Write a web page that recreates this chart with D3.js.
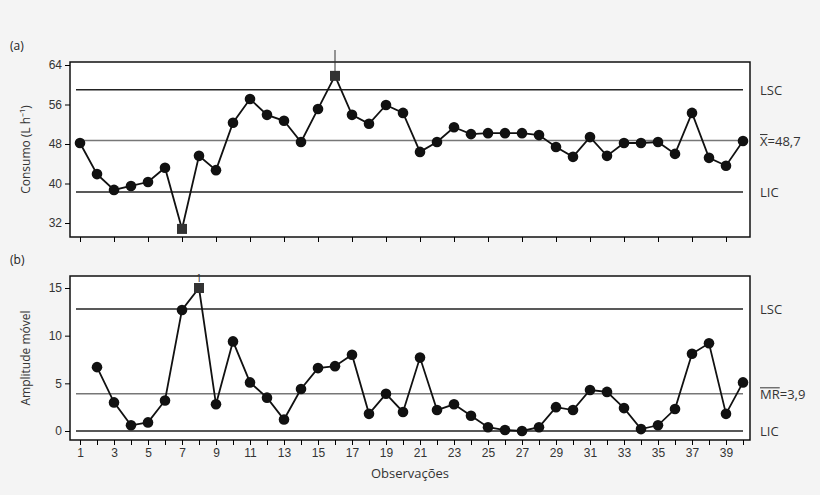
<!DOCTYPE html>
<html><head><meta charset="utf-8">
<script src="https://cdn.jsdelivr.net/npm/d3@7"></script>
<style>body{margin:0;background:#f4f4f4}svg{font-family:"Open Sans",sans-serif}</style>
</head><body><svg id="c" width="820" height="495"></svg>
<script>
var consumo = [48.2,41.9,38.7,39.5,40.3,43.2,30.8,45.6,42.7,52.3,57.1,53.9,52.7,48.4,55.1,61.8,53.9,52.1,55.9,54.3,
  46.4,48.4,51.4,50.0,50.2,50.2,50.2,49.8,47.4,45.4,49.4,45.6,48.2,48.2,48.4,46.0,54.3,45.2,43.6,48.6];
var amplitude = [6.7,3.0,0.6,0.9,3.2,12.7,15.0,2.8,9.4,5.1,3.5,1.2,4.4,6.6,6.8,8.0,1.8,3.9,2.0,7.7,
  2.2,2.8,1.6,0.4,0.1,0.0,0.4,2.5,2.2,4.3,4.1,2.4,0.2,0.6,2.3,8.1,9.2,1.8,5.1];
var limX = {lsc:59.0, cen:48.7, lic:38.3};
var limMR = {lsc:12.8, cen:3.9, lic:0};
var outX = [7,16], outMR = [8];
var yTicksX = [32,40,48,56,64], yTicksMR = [0,5,10,15];

var svg = d3.select("#c");
var x = d3.scaleLinear().domain([1,40]).range([80,743]);
var oddObs = d3.range(1,41,2);

function panel(o){
  var y = d3.scaleLinear().domain(o.dom).range(o.rng);
  var g = svg.append("g");
  g.append("rect").attr("x",70).attr("y",o.top).attr("width",680).attr("height",o.bot-o.top)
    .attr("fill","#fff").attr("stroke","#111").attr("stroke-width",1.5);
  g.append("g").attr("transform","translate(70,0)")
    .call(d3.axisLeft(y).tickValues(o.yt).tickSize(5).tickPadding(3))
    .call(function(a){a.select(".domain").remove();a.selectAll("text").attr("font-size",12).attr("fill","#333");});
  var ax = g.append("g").attr("transform","translate(0,"+o.bot+")")
    .call(d3.axisBottom(x).tickValues(o.xlab ? d3.range(1,41) : oddObs).tickSize(5).tickFormat(function(d){return o.xlab && d%2 ? d : "";}));
  ax.select(".domain").remove();
  ax.selectAll("text").attr("font-size",12).attr("fill","#333");
  [["lsc","#222"],["cen","#777"],["lic","#222"]].forEach(function(l){
    g.append("line").attr("x1",76).attr("x2",743).attr("y1",y(o.lim[l[0]])).attr("y2",y(o.lim[l[0]]))
      .attr("stroke",l[1]).attr("stroke-width",1.5);
  });
  if(o.mark) o.mark(g,y);
  var pts = o.data.map(function(v,i){return {i:i+o.start,v:v};});
  g.append("path").datum(pts).attr("fill","none").attr("stroke","#111").attr("stroke-width",1.8)
    .attr("d",d3.line().x(function(d){return x(d.i);}).y(function(d){return y(d.v);}));
  pts.forEach(function(d){
    if(o.out.indexOf(d.i)>=0){
      g.append("rect").attr("x",x(d.i)-5).attr("y",y(d.v)-5).attr("width",10).attr("height",10).attr("fill","#333");
    } else {
      g.append("circle").attr("cx",x(d.i)).attr("cy",y(d.v)).attr("r",5.3).attr("fill","#111");
    }
  });
  g.append("text").attr("x",760).attr("y",y(o.lim.lsc)+5).attr("font-size",13).attr("fill","#333").text("LSC");
  g.append("text").attr("x",760).attr("y",y(o.lim.lic)+5).attr("font-size",13).attr("fill","#333").text("LIC");
  var cy = y(o.lim.cen)+5;
  var nm = g.append("text").attr("x",760).attr("y",cy).attr("font-size",13).attr("fill","#333").text(o.cname);
  var w = nm.node().getComputedTextLength();
  g.append("line").attr("x1",760).attr("x2",760+w).attr("y1",cy-11).attr("y2",cy-11).attr("stroke","#333").attr("stroke-width",1);
  g.append("text").attr("x",760+w).attr("y",cy).attr("font-size",13).attr("fill","#333").text("="+o.cval);
  g.append("text").attr("transform","translate(30,"+((o.top+o.bot)/2)+") rotate(-90)")
    .attr("text-anchor","middle").attr("font-size",12).attr("fill","#333").text(o.ylabel);
  g.append("text").attr("x",10).attr("y",o.top-12).attr("font-size",12).attr("fill","#222").text(o.tag);
  return {g:g,y:y};
}

var pa = panel({dom:[32,64],rng:[223,65],top:62,bot:237,yt:yTicksX,lim:limX,data:consumo,start:1,
  out:outX,cname:"X",cval:"48,7",ylabel:"Consumo (L h⁻¹)",tag:"(a)",xlab:false,
  mark:function(g,y){g.append("line").attr("x1",x(16)).attr("x2",x(16)).attr("y1",50).attr("y2",y(consumo[15])).attr("stroke","#333");}});

var pb = panel({dom:[0,15],rng:[431,288],top:276,bot:440,yt:yTicksMR,lim:limMR,data:amplitude,start:2,
  out:outMR,cname:"MR",cval:"3,9",ylabel:"Amplitude móvel",tag:"(b)",xlab:true});
pb.g.append("text").attr("x",x(8)).attr("y",pb.y(amplitude[6])-6).attr("text-anchor","middle")
  .attr("font-size",11).attr("fill","#333").text("1");

svg.append("text").attr("x",410).attr("y",478).attr("text-anchor","middle").attr("font-size",13)
  .attr("fill","#333").text("Observações");
</script></body></html>
